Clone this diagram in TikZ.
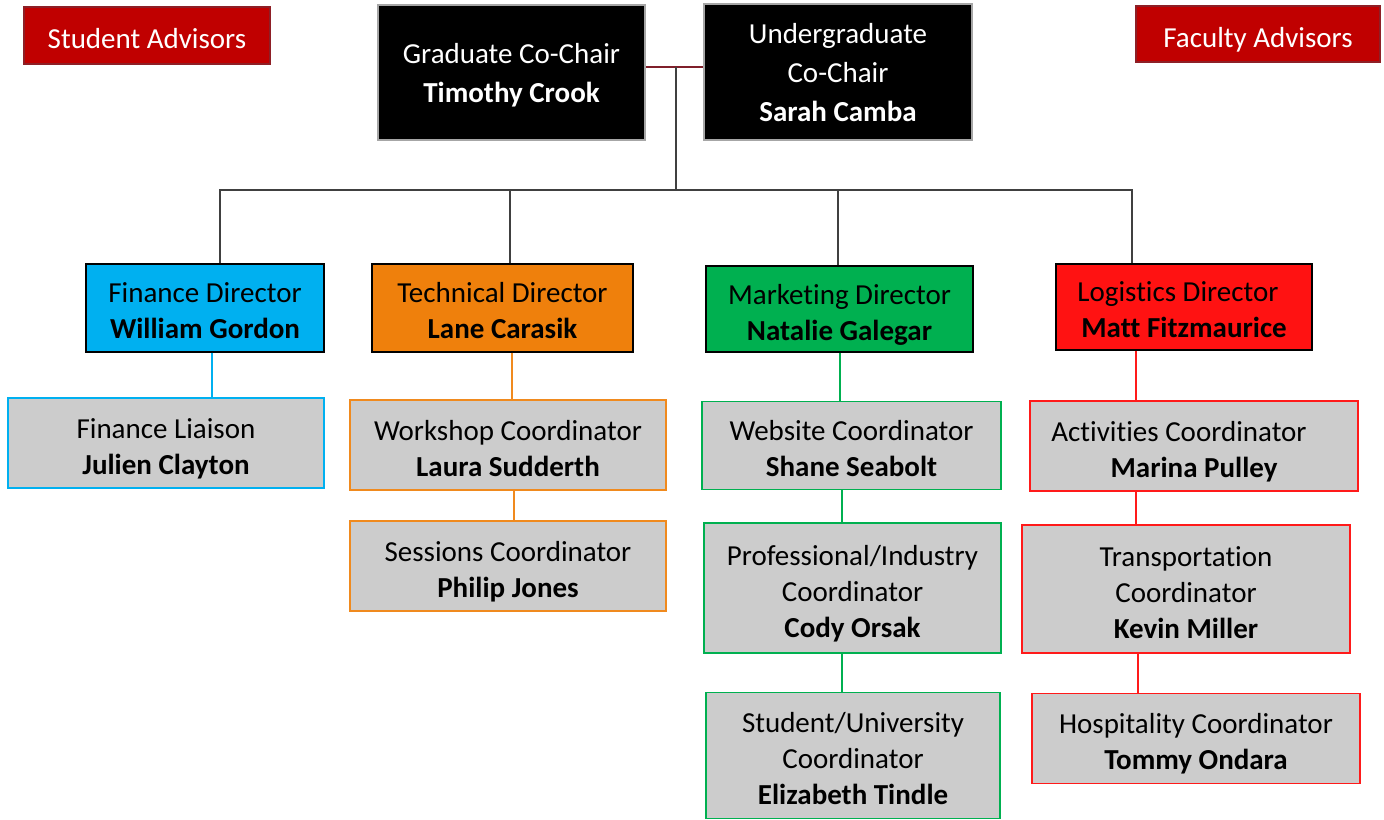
\documentclass[tikz,border=0pt]{standalone}
\usepackage{fontspec}
\setmainfont{Carlito}[Ligatures=NoCommon]
\newcommand{\topstr}{\rule{0pt}{17pt}}
\newcommand{\chairstr}{\rule{0pt}{14.5pt}}
\newcommand{\botstr}{\rule[-4pt]{0pt}{4pt}}
\definecolor{advred}{HTML}{C00000}
\definecolor{advborder}{HTML}{8E1F26}
\definecolor{chairgray}{HTML}{A6A6A6}
\definecolor{linkred}{HTML}{7F1F2A}
\definecolor{busgray}{HTML}{404040}
\definecolor{boxgray}{HTML}{CCCCCC}
\definecolor{fincol}{HTML}{00B0F0}
\definecolor{techcol}{HTML}{EF800C}
\definecolor{techline}{HTML}{F08A1E}
\definecolor{mktcol}{HTML}{00B050}
\definecolor{logcol}{HTML}{FF1212}
\definecolor{logline}{HTML}{FF1A1A}
\begin{document}
\begin{tikzpicture}[x=0.5pt,y=-0.5pt,
  base/.style={rectangle, align=center, inner sep=0pt, font=\fontsize{14.5pt}{18pt}\selectfont},
  advisor/.style={base, fill=advred, draw=advborder, line width=0.6pt, text=white},
  chair/.style={base, fill=black, draw=chairgray, line width=1pt, text=white, font=\fontsize{14.5pt}{19.5pt}\selectfont},
  director/.style={base, draw=black, line width=1pt},
  coordbox/.style={base, fill=boxgray, line width=0.9pt},
  busline/.style={draw=busgray, line width=0.7pt},
  linkline/.style={draw=linkred, line width=1pt},
  branch/.style={line width=1pt}
]
\useasboundingbox (0,0) rectangle (1384,819);

% advisors
\node[advisor, minimum width=123pt, minimum height=28.5pt] (sadv) at (147,35.5) {\topstr Student Advisors\botstr};
\node[advisor, minimum width=122pt, minimum height=28pt] (fadv) at (1258,34) {\topstr Faculty Advisors\botstr};

% co-chairs
\node[chair, minimum width=133.5pt, minimum height=67.5pt] (grad) at (511.5,72.5) {\chairstr Graduate Co-Chair\\\textbf{Timothy Crook}\botstr};
\node[chair, minimum width=134pt, minimum height=68pt] (ugrad) at (838,72) {\chairstr Undergraduate\\Co-Chair\\\textbf{Sarah Camba}\botstr};

% directors
\node[director, fill=fincol, minimum width=119pt, minimum height=44pt] (fin) at (205,307.5) {\topstr Finance Director\\\textbf{William Gordon}\botstr};
\node[director, fill=techcol, minimum width=130.5pt, minimum height=44pt] (tech) at (502.5,307.5) {\topstr Technical Director\\\textbf{Lane Carasik}\botstr};
\node[director, fill=mktcol, minimum width=133.5pt, minimum height=43pt] (mkt) at (839.5,309) {\topstr Marketing Director\\\textbf{Natalie Galegar}\botstr};
\node[director, fill=logcol, minimum width=128pt, minimum height=43pt] (log) at (1184,306.5) {\topstr Logistics Director\hspace*{6pt}\\\textbf{Matt Fitzmaurice}\botstr};

% coordinators
\node[coordbox, draw=fincol, minimum width=158pt, minimum height=45pt] (liaison) at (166,443) {\topstr Finance Liaison\\\textbf{Julien Clayton}\botstr};
\node[coordbox, draw=techline, minimum width=158pt, minimum height=45pt] (work) at (508,445) {\topstr Workshop Coordinator\\\textbf{Laura Sudderth}\botstr};
\node[coordbox, draw=techline, minimum width=158pt, minimum height=45pt] (sess) at (508,566) {\topstr Sessions Coordinator\\\textbf{Philip Jones}\botstr};
\node[coordbox, draw=mktcol, minimum width=149.5pt, minimum height=44pt] (web) at (851.5,445.5) {\topstr Website Coordinator\\\textbf{Shane Seabolt}\botstr};
\node[coordbox, draw=mktcol, minimum width=148.5pt, minimum height=65pt] (prof) at (852.5,588) {\topstr Professional/Industry\\Coordinator\\\textbf{Cody Orsak}\botstr};
\node[coordbox, draw=mktcol, minimum width=147pt, minimum height=63pt] (stu) at (853,755.5) {\topstr Student/University\\Coordinator\\\textbf{Elizabeth Tindle}\botstr};
\node[coordbox, draw=logline, minimum width=164pt, minimum height=45pt] (act) at (1194,446) {\topstr Activities Coordinator\hspace*{15pt}\\\textbf{Marina Pulley}\botstr};
\node[coordbox, draw=logline, minimum width=164pt, minimum height=64pt] (trans) at (1186,589) {\topstr Transportation\\Coordinator\\\textbf{Kevin Miller}\botstr};
\node[coordbox, draw=logline, minimum width=164pt, minimum height=45pt] (hosp) at (1196,738.5) {\topstr Hospitality Coordinator\\\textbf{Tommy Ondara}\botstr};

% top structure
\coordinate (hub) at (676,67);
\coordinate (b1) at (220,190);
\coordinate (b2) at (510,190);
\coordinate (b3) at (838,190);
\coordinate (b4) at (1132,190);
\draw[linkline] (grad.east |- hub) -- (ugrad.west |- hub);
\draw[busline] (hub) -- (hub |- b1);
\draw[busline] (b1 |- fin.north) -- (b1) -- (b4) -- (b4 |- log.north);
\draw[busline] (b2) -- (b2 |- tech.north);
\draw[busline] (b3) -- (b3 |- mkt.north);

% branch lines
\coordinate (lf) at (212,0);
\coordinate (lt1) at (512,0);
\coordinate (lt2) at (514,0);
\coordinate (lm1) at (840,0);
\coordinate (lm2) at (842,0);
\coordinate (ll1) at (1136,0);
\coordinate (ll2) at (1138,0);
\draw[branch, fincol] (fin.south -| lf) -- (liaison.north -| lf);
\draw[branch, techline] (tech.south -| lt1) -- (work.north -| lt1);
\draw[branch, techline] (work.south -| lt2) -- (sess.north -| lt2);
\draw[branch, mktcol] (mkt.south -| lm1) -- (web.north -| lm1);
\draw[branch, mktcol] (web.south -| lm2) -- (prof.north -| lm2);
\draw[branch, mktcol] (prof.south -| lm2) -- (stu.north -| lm2);
\draw[branch, logline] (log.south -| ll1) -- (act.north -| ll1);
\draw[branch, logline] (act.south -| ll1) -- (trans.north -| ll1);
\draw[branch, logline] (trans.south -| ll2) -- (hosp.north -| ll2);
\end{tikzpicture}
\end{document}
